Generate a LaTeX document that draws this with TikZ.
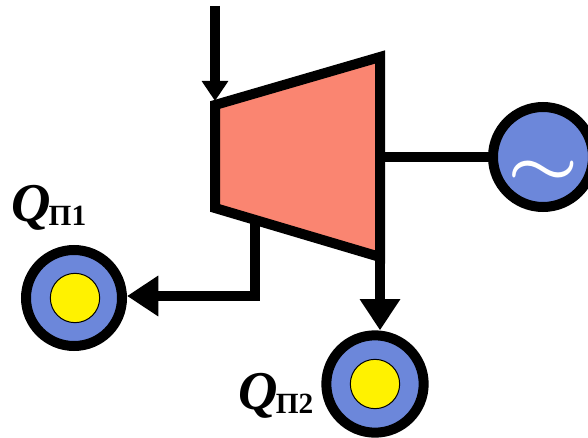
\documentclass[tikz,border=0pt]{standalone}
\usepackage{fontspec}
\setmainfont{Liberation Serif}
\usepackage{tikz}
\usetikzlibrary{arrows.meta,positioning,calc}
\definecolor{turbinered}{HTML}{FA8571}
\definecolor{ringblue}{HTML}{6C87DA}
\newcommand{\qlabel}[1]{{\fontsize{41}{41}\selectfont\bfseries\itshape Q}\kern-1.5pt\raisebox{-3pt}{\fontsize{22}{22}\selectfont\bfseries П#1}}

\begin{document}
\begin{tikzpicture}[
        x=0.75pt,y=-0.75pt,
        pipe/.style={line width=7.5pt,line cap=butt},
        bigarrow/.style={pipe,-{Triangle[length=23.5pt,width=29pt]}},
        smallarrow/.style={pipe,-{Triangle[length=15pt,width=19pt]}},
        ring/.style={circle,draw,line width=7.5pt,fill=ringblue,minimum size=73pt,inner sep=0pt},
        core/.style={circle,draw,line width=0.75pt,fill=yellow,minimum size=37pt,inner sep=0pt},
        qtext/.style={inner sep=0pt,font=\normalfont},
    ]
    \useasboundingbox (0,0) rectangle (588,438);
    \clip (0,0) rectangle (588,438);

    % === turbine ===
    \coordinate (tl) at (215,105);
    \coordinate (tr) at (380,57);
    \coordinate (br) at (380,257);
    \coordinate (bl) at (215,208);
    \coordinate (inlet) at (215,6);
    \coordinate (tap) at ($(bl)!0.24!(br)$);
    \coordinate (shaft) at (380,157);

    % === generator and heat loads ===
    \node[ring,minimum size=75pt] (gen) at (543,157) {};
    \node[xscale=6,yscale=4.5,white,inner sep=0pt,font=\boldmath] (wave) at (543,173) {$\sim$};
    \node[ring,minimum size=72pt] (heatA) at (74,298) {};
    \node[core] (coreA) at (75,298) {};
    \node[ring] (heatB) at (375,384) {};
    \node[core] (coreB) at (375,384) {};

    % === pipes ===
    \draw[smallarrow] (inlet) -- ([yshift=3pt]tl);
    \draw[pipe] (shaft) -- (gen.west);
    \draw[bigarrow] (tap) |- ([yshift=1.5pt]heatA.east);
    \draw[bigarrow] (br) -- (br |- heatB.north);
    \draw[pipe,miter limit=10,fill=turbinered] (tl) -- (tr) -- (br) -- (bl) -- cycle;

    % === labels ===
    \node[qtext,anchor=west] (labelA) at (11,208) {\qlabel{1}};
    \node[qtext,anchor=west] (labelB) at (238,396) {\qlabel{2}};
\end{tikzpicture}
\end{document}
